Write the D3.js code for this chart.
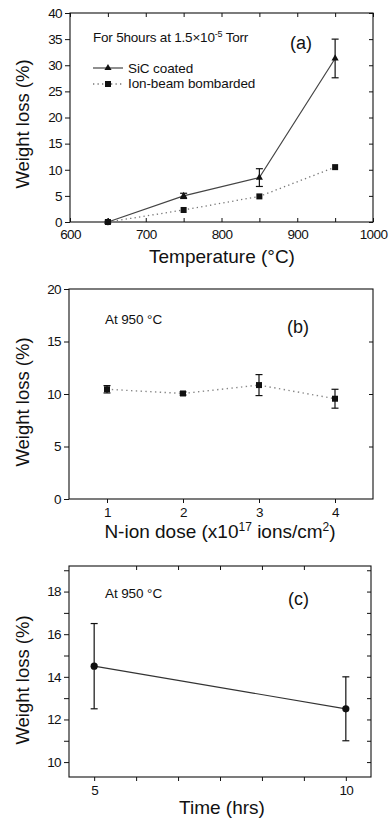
<!DOCTYPE html>
<html><head><meta charset="utf-8">
<script src="https://cdn.jsdelivr.net/npm/d3@7"></script>
<style>
body{margin:0;background:#fff}
svg{display:block}
text{font-family:"Liberation Sans",Arial,sans-serif;fill:#111}
.tick text{font-family:"Liberation Sans",Arial,sans-serif;font-size:13.5px;letter-spacing:-0.6px;fill:#111}
.domain{stroke:none}
.tick line{stroke:#111;stroke-width:1}
</style></head>
<body><svg id="c" width="392" height="822"></svg>
<script>
// ---------- data ----------
const tempCategories = [650, 750, 850, 950];
const sicValues      = [0, 5.0, 8.5, 31.3];
const sicErr         = [0, 0.5, 1.7, 3.7];
const ionValues      = [0, 2.3, 4.9, 10.5];
const tempTicks      = [600, 700, 800, 900, 1000];

const doseCategories = [1, 2, 3, 4];
const doseValues     = [10.45, 10.05, 10.85, 9.55];
const doseErr        = [0.35, 0.15, 1.0, 0.9];
const doseYTicks     = [0, 5, 10, 15, 20];

const timeCategories = [5, 10];
const timeValues     = [14.5, 12.5];
const timeErr        = [2.0, 1.5];
const timeYTicks     = [10, 12, 14, 16, 18];

const svg = d3.select("#c");

function frame(p){
  const g = svg.append("g");
  g.append("rect").attr("x",p.l).attr("y",p.t).attr("width",p.r-p.l).attr("height",p.b-p.t)
    .attr("fill","none").attr("stroke","#111").attr("stroke-width",1.1);
  return g;
}
function axes(g,p,x,y,o){
  g.append("g").attr("transform",`translate(0,${p.b})`)
    .call(d3.axisBottom(x).tickValues(o.xTicks).tickSize(o.xIn?-4:4).tickPadding(o.xIn?7:4)
      .tickFormat(d=>o.xLabels.includes(d)?d3.format("d")(d):""));
  if(o.topTicks) g.append("g").attr("transform",`translate(0,${p.t})`)
    .call(d3.axisTop(x).tickValues(o.topTicks).tickSize(-4).tickFormat(""));
  g.append("g").attr("transform",`translate(${p.l},0)`)
    .call(d3.axisLeft(y).tickValues(o.yTicks).tickSize(5).tickPadding(3)
      .tickFormat(d=>o.yLabels.includes(d)?d3.format("d")(d):""));
  g.append("g").attr("transform",`translate(${p.r},0)`)
    .call(d3.axisRight(y).tickValues(o.yRight||o.yTicks).tickSize(-4).tickFormat(""));
}
function ytitle(cx,cy){
  svg.append("text").attr("transform",`translate(${cx},${cy}) rotate(-90)`)
    .attr("text-anchor","middle").attr("font-size",18.5).attr("dy","0.35em").text("Weight loss (%)");
}
function errbars(g,x,y,cats,vals,errs,cap){
  cats.forEach((c,i)=>{
    if(!errs[i]) return;
    const X=x(c), y1=y(vals[i]+errs[i]), y0=y(vals[i]-errs[i]);
    g.append("line").attr("x1",X).attr("x2",X).attr("y1",y1).attr("y2",y0).attr("stroke","#111").attr("stroke-width",1.2);
    [y1,y0].forEach(yy=>g.append("line").attr("x1",X-cap).attr("x2",X+cap).attr("y1",yy).attr("y2",yy).attr("stroke","#111").attr("stroke-width",1.2));
  });
}

// ---------- panel (a) ----------
{
  const p={l:70,r:373,t:13,b:222};
  const x=d3.scaleLinear().domain([600,1000]).range([p.l,p.r]);
  const y=d3.scaleLinear().domain([0,40]).range([p.b,p.t]);
  const g=frame(p);
  const yt=d3.range(0,41,5);
  axes(g,p,x,y,{xTicks:d3.range(600,1001,50),xLabels:tempTicks,xIn:true,topTicks:d3.range(600,1001,50),yTicks:yt,yLabels:yt});
  const line=d3.line().x((d,i)=>x(tempCategories[i])).y(d=>y(d));
  g.append("path").datum(ionValues).attr("d",line).attr("fill","none").attr("stroke","#777").attr("stroke-width",1.3).attr("stroke-dasharray","1.3,3.2");
  g.append("path").datum(sicValues).attr("d",line).attr("fill","none").attr("stroke","#444").attr("stroke-width",1.2);
  errbars(g,x,y,tempCategories,sicValues,sicErr,3.5);
  ionValues.forEach((v,i)=>g.append("rect").attr("x",x(tempCategories[i])-3).attr("y",y(v)-3).attr("width",6).attr("height",6).attr("fill","#111"));
  const tri=d3.symbol().type(d3.symbolTriangle).size(22);
  sicValues.forEach((v,i)=>g.append("path").attr("d",tri).attr("transform",`translate(${x(tempCategories[i])},${y(v)})`).attr("fill","#111"));
  g.append("circle").attr("cx",x(650)).attr("cy",y(0)).attr("r",3.3).attr("fill","#111");
  const t=g.append("text").attr("x",93).attr("y",42).attr("font-size",13.5).attr("letter-spacing",-0.2);
  t.append("tspan").text("For 5hours at 1.5\u00d710");
  t.append("tspan").attr("dy",-5).attr("font-size",9).text("-5");
  t.append("tspan").attr("dy",5).text(" Torr");
  g.append("text").attr("x",290).attr("y",49).attr("font-size",18).text("(a)");
  g.append("line").attr("x1",93).attr("x2",123).attr("y1",68).attr("y2",68).attr("stroke","#444").attr("stroke-width",1.2);
  g.append("path").attr("d",tri).attr("transform","translate(108,68)").attr("fill","#111");
  g.append("text").attr("x",128).attr("y",73).attr("font-size",13.5).attr("letter-spacing",-0.1).text("SiC coated");
  g.append("line").attr("x1",93).attr("x2",123).attr("y1",84).attr("y2",84).attr("stroke","#777").attr("stroke-width",1.3).attr("stroke-dasharray","1.3,3.2");
  g.append("rect").attr("x",105).attr("y",81).attr("width",6).attr("height",6).attr("fill","#111");
  g.append("text").attr("x",128).attr("y",88).attr("font-size",13.5).attr("letter-spacing",-0.1).text("Ion-beam bombarded");
  ytitle(23,124);
  svg.append("text").attr("x",222).attr("y",263).attr("text-anchor","middle").attr("font-size",19).text("Temperature (\u00b0C)");
}

// ---------- panel (b) ----------
{
  const p={l:69,r:373,t:289,b:499};
  const x=d3.scaleLinear().domain([0.5,4.5]).range([p.l,p.r]);
  const y=d3.scaleLinear().domain([0,20]).range([p.b,p.t]);
  const g=frame(p);
  axes(g,p,x,y,{xTicks:doseCategories,xLabels:doseCategories,xIn:false,yTicks:doseYTicks,yLabels:doseYTicks,yRight:[5,10,15]});
  const line=d3.line().x((d,i)=>x(doseCategories[i])).y(d=>y(d));
  g.append("path").datum(doseValues).attr("d",line).attr("fill","none").attr("stroke","#888").attr("stroke-width",1.4).attr("stroke-dasharray","1.4,3.4");
  errbars(g,x,y,doseCategories,doseValues,doseErr,3.5);
  doseValues.forEach((v,i)=>g.append("rect").attr("x",x(doseCategories[i])-3).attr("y",y(v)-3).attr("width",6).attr("height",6).attr("fill","#111"));
  g.append("text").attr("x",105).attr("y",324).attr("font-size",13.5).attr("letter-spacing",-0.1).text("At 950 \u00b0C");
  g.append("text").attr("x",287).attr("y",333).attr("font-size",18).text("(b)");
  ytitle(23,402);
  const t=svg.append("text").attr("x",220).attr("y",538).attr("text-anchor","middle").attr("font-size",19);
  t.append("tspan").text("N-ion dose (x10");
  t.append("tspan").attr("dy",-7).attr("font-size",12).text("17");
  t.append("tspan").attr("dy",7).text(" ions/cm");
  t.append("tspan").attr("dy",-7).attr("font-size",12).text("2");
  t.append("tspan").attr("dy",7).text(")");
}

// ---------- panel (c) ----------
{
  const p={l:69,r:371,t:566,b:777};
  const x=d3.scaleLinear().domain([4.5,10.5]).range([p.l,p.r]);
  const y=d3.scaleLinear().domain([9.3,19.2]).range([p.b,p.t]);
  const g=frame(p);
  const xt=d3.range(0,7).map(i=>5+i*5/6);
  const yt=d3.range(10,20,1);
  axes(g,p,x,y,{xTicks:xt,xLabels:timeCategories,xIn:false,topTicks:xt.slice(1,-1),yTicks:yt,yLabels:timeYTicks});
  const line=d3.line().x((d,i)=>x(timeCategories[i])).y(d=>y(d));
  g.append("path").datum(timeValues).attr("d",line).attr("fill","none").attr("stroke","#333").attr("stroke-width",1.2);
  errbars(g,x,y,timeCategories,timeValues,timeErr,3.5);
  timeValues.forEach((v,i)=>g.append("circle").attr("cx",x(timeCategories[i])).attr("cy",y(v)).attr("r",3.6).attr("fill","#111"));
  g.append("text").attr("x",105).attr("y",598).attr("font-size",13.5).attr("letter-spacing",-0.1).text("At 950 \u00b0C");
  g.append("text").attr("x",288).attr("y",605).attr("font-size",18).text("(c)");
  ytitle(23,680);
  svg.append("text").attr("x",222).attr("y",814).attr("text-anchor","middle").attr("font-size",19).text("Time (hrs)");
}
</script></body></html>
